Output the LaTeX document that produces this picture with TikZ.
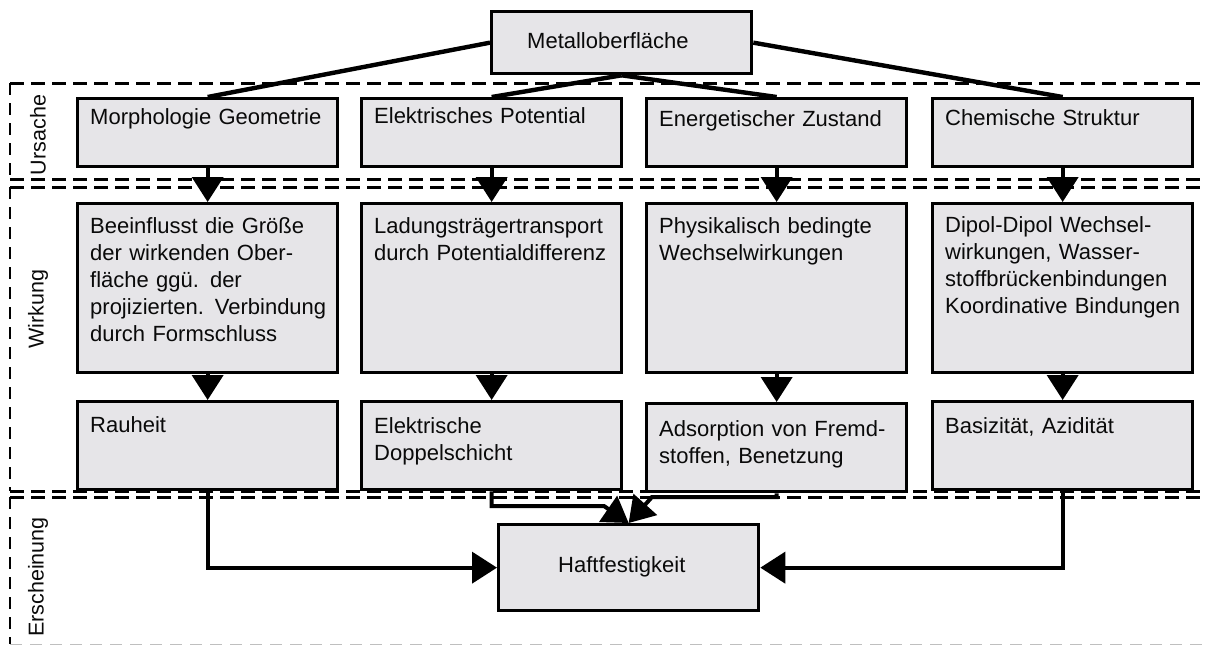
\documentclass[tikz,border=0pt]{standalone}
\usepackage{fontspec}
\setmainfont{Liberation Sans}
\usetikzlibrary{arrows.meta}
\definecolor{boxfill}{RGB}{230,229,232}
\definecolor{ink}{RGB}{10,10,10}
\begin{document}
\begin{tikzpicture}[x=1pt,y=-1pt,
  box/.style={draw=black,line width=3.3pt,fill=boxfill,inner sep=0pt,anchor=north west,minimum width=260pt},
  txt/.style={font=\fontsize{22}{27}\selectfont,text=ink,text width=260pt,align=left,inner sep=0pt,anchor=base west},
  lbl/.style={font=\fontsize{21.5}{26}\selectfont,text=ink,rotate=90,inner sep=0pt},
  conn/.style={line width=4.4pt},
  arr/.style={line width=4pt,-{Triangle[length=25pt,width=31pt]}},
  region/.style={line width=3pt,dash pattern=on 14pt off 7pt},
  vregion/.style={line width=1.8pt,dash pattern=on 12pt off 8pt}]
\useasboundingbox (0,0) rectangle (1206,646);
\clip (0,0) rectangle (1206,646);

% regions
\draw[region] (10,83) -- (1240,83);
\draw[region] (10,179) -- (1240,179);
\draw[vregion] (10,83) -- (10,179);
\draw[region] (10,187) -- (1240,187);
\draw[region] (10,491) -- (1240,491);
\draw[vregion] (10,187) -- (10,491);
\draw[region] (10,497) -- (1240,497);
\draw[vregion] (10,497) -- (10,644);
\draw[vregion,draw=black!25,line width=1pt] (10,644) -- (1240,644);
\node[lbl] (lu) at (38,135) {Ursache};
\node[lbl] (lw) at (38,309) {Wirkung};
\node[lbl] (le) at (38,577) {Erscheinung};

% top
\node[box,minimum width=260pt,minimum height=62pt] (top) at (490,10) {};
\node[txt,text width=200pt] (ttop) at (527,48) {Metalloberfläche};

% row 1
\node[box,minimum height=68pt] (a1) at (76,97) {};
\node[box,minimum height=68pt] (a2) at (360,97) {};
\node[box,minimum height=68pt] (a3) at (645,97) {};
\node[box,minimum height=68pt] (a4) at (931,97) {};
\node[txt] (ta1) at (90,124) {Morphologie Geometrie};
\node[txt] (ta2) at (374,123) {Elektrisches Potential};
\node[txt] (ta3) at (659,126) {Energetischer Zustand};
\node[txt] (ta4) at (945,125) {Chemische Struktur};

% row 2
\node[box,minimum height=169pt] (b1) at (76,202) {};
\node[box,minimum height=169pt] (b2) at (360,202) {};
\node[box,minimum height=169pt] (b3) at (645,202) {};
\node[box,minimum height=169pt] (b4) at (931,202) {};
\node[txt] (tb1) at (90,233) {Beeinflusst die Größe\\der wirkenden Ober-\\fläche ggü. der\\projizierten. Verbindung\\durch Formschluss};
\node[txt] (tb2) at (374,233) {Ladungsträgertransport\\durch Potentialdifferenz};
\node[txt] (tb3) at (659,233) {Physikalisch bedingte\\Wechselwirkungen};
\node[txt] (tb4) at (945,232) {Dipol-Dipol Wechsel-\\wirkungen, Wasser-\\stoffbrückenbindungen\\Koordinative Bindungen};

% row 3
\node[box,minimum height=88pt] (c1) at (76,400) {};
\node[box,minimum height=88pt] (c2) at (360,400) {};
\node[box,minimum height=88pt] (c3) at (645,402) {};
\node[box,minimum height=88pt] (c4) at (931,400) {};
\node[txt] (tc1) at (90,432) {Rauheit};
\node[txt] (tc2) at (374,433) {Elektrische\\Doppelschicht};
\node[txt] (tc3) at (659,436) {Adsorption von Fremd-\\stoffen, Benetzung};
\node[txt] (tc4) at (945,433) {Basizität, Azidität};

% result
\node[box,minimum width=260pt,minimum height=86pt] (h) at (497,523) {};
\node[txt,text width=200pt] (th) at (558,572) {Haftfestigkeit};

% connectors from top
\draw[conn] (top.west) -- (a1.north);
\draw[conn] (top.south) -- (a2.north);
\draw[conn] (top.south) -- (a3.north);
\draw[conn] (top.east) -- (a4.north);

% arrows
\foreach \i in {1,2,3,4}{
  \draw[arr] (a\i.south) -- (b\i.north);
  \draw[arr] (b\i.south) -- (c\i.north);
}
\coordinate (k1) at (604,506);
\coordinate (k2) at (652,497);
\draw[arr] (c1.south) |- (h.west);
\draw[arr] (c4.south) |- (h.east);
\draw[arr] (c2.south) |- (k1) -- (h.north);
\draw[arr] (c3.south) |- (k2) -- (h.north);
\end{tikzpicture}
\end{document}
